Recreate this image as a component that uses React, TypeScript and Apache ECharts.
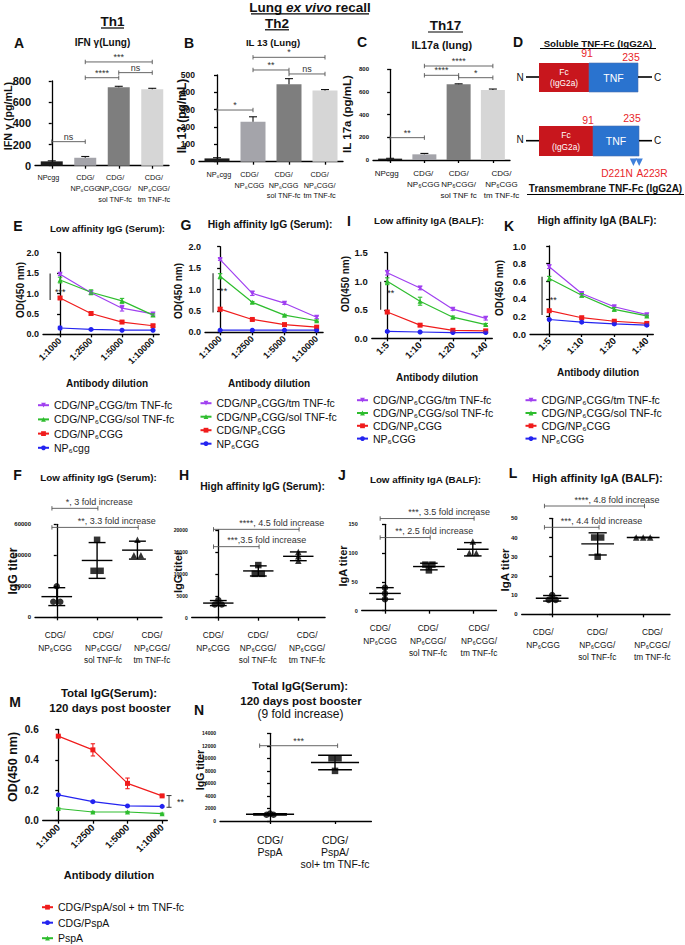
import React, { useEffect, useRef } from 'react';
import * as echarts from 'echarts';

const FONT = '"Liberation Sans", Arial, Helvetica, sans-serif';

// ---------------- Data: bar panels (A, B, C) ----------------
const aCategories = ['NPcgg', 'CDG/\nNP₆CGG', 'CDG/\nNP₆CGG/\nsol TNF-fc', 'CDG/\nNP₆CGG/\ntm TNF-fc'];
const aMeans = [41, 75, 740, 721];
const aErrors = [5, 12, 10, 10];
const bCategories = ['NP₆cgg', 'CDG/\nNP₆CGG', 'CDG/\nNP₆CGG\nsol TNF-fc', 'CDG/\nNP₆CGG/\ntm TNF-fc'];
const bMeans = [19, 231, 446, 410];
const bErrors = [4, 28, 33, 6];
const cCategories = ['NPcgg', 'CDG/\nNP₆CGG', 'CDG/\nNP₆CGG/\nsol TNF fc', 'CDG/\nNP₆CGG\ntm TNF-fc'];
const cMeans = [12, 50, 668, 618];
const cErrors = [3, 8, 4, 8];
const aBrackets = [
  { from: 0, to: 1, y: 227, text: 'ns' },
  { from: 1, to: 2, y: 831, text: '****' },
  { from: 2, to: 3, y: 879, text: 'ns' },
  { from: 1, to: 3, y: 980, text: '***' },
];
const bBrackets = [
  { from: 0, to: 1, y: 298, text: '*' },
  { from: 1, to: 2, y: 529, text: '**' },
  { from: 2, to: 3, y: 506, text: 'ns' },
  { from: 1, to: 3, y: 602, text: '*' },
];
const cBrackets = [
  { from: 0, to: 1, y: 197, text: '**' },
  { from: 1, to: 2, y: 747, text: '****' },
  { from: 2, to: 3, y: 726, text: '*' },
  { from: 1, to: 3, y: 829, text: '****' },
];

// ---------------- Data: ELISA dilution curves (E, G, I, K, M) ----------------
const serumDilutions = ['1:1000', '1:2500', '1:5000', '1:10000'];
const balfDilutions = ['1:5', '1:10', '1:20', '1:40'];
const tmName = 'CDG/NP₆CGG/tm TNF-fc';
const solName = 'CDG/NP₆CGG/sol TNF-fc';
const cdgName = 'CDG/NP₆CGG';
const npLowerName = 'NP₆cgg';
const npName = 'NP₆CGG';

const eTm = [1.47, 1.02, 0.64, 0.5];
const eTmErr = [0.03, 0.04, 0.07, 0.03];
const eSol = [1.33, 1.03, 0.82, 0.47];
const eSolErr = [0.07, 0.06, 0.06, 0.03];
const eCdg = [0.89, 0.51, 0.3, 0.21];
const eCdgErr = [0.03, 0.04, 0.03, 0.03];
const eNp = [0.155, 0.12, 0.1, 0.1];
const eNpErr = [0.04, 0.02, 0.01, 0.01];

const gTm = [1.7, 0.91, 0.68, 0.35];
const gTmErr = [0.02, 0.05, 0.03, 0.03];
const gSol = [1.31, 0.7, 0.4, 0.27];
const gSolErr = [0.06, 0.02, 0.02, 0.02];
const gCdg = [0.54, 0.3, 0.18, 0.12];
const gCdgErr = [0.04, 0.02, 0.02, 0.02];
const gNp = [0.05, 0.05, 0.05, 0.05];
const gNpErr = [0.01, 0.01, 0.01, 0.01];

const iTm = [1.15, 0.88, 0.51, 0.35];
const iTmErr = [0.04, 0.03, 0.02, 0.03];
const iSol = [1.0, 0.65, 0.37, 0.24];
const iSolErr = [0.06, 0.07, 0.02, 0.02];
const iCdg = [0.46, 0.23, 0.14, 0.13];
const iCdgErr = [0.02, 0.02, 0.02, 0.02];
const iNp = [0.12, 0.11, 0.1, 0.1];
const iNpErr = [0.01, 0.01, 0.01, 0.01];

const kTm = [0.765, 0.46, 0.31, 0.22];
const kTmErr = [0.02, 0.015, 0.01, 0.01];
const kSol = [0.63, 0.44, 0.28, 0.205];
const kSolErr = [0.025, 0.02, 0.02, 0.01];
const kCdg = [0.265, 0.185, 0.145, 0.12];
const kCdgErr = [0.01, 0.01, 0.01, 0.01];
const kNp = [0.165, 0.135, 0.115, 0.1];
const kNpErr = [0.01, 0.01, 0.01, 0.01];

const mTnfName = 'CDG/PspA/sol + tm TNF-fc';
const mCdgName = 'CDG/PspA';
const mPspaName = 'PspA';
const mTnf = [0.555, 0.465, 0.245, 0.163];
const mTnfErr = [0.005, 0.04, 0.035, 0.005];
const mCdg = [0.17, 0.125, 0.097, 0.094];
const mCdgErr = [0.005, 0.005, 0.004, 0.004];
const mPspa = [0.08, 0.057, 0.057, 0.046];
const mPspaErr = [0.004, 0.004, 0.004, 0.004];

const eSig = { x: -0.32, from: 1.49, to: 0.84, label: '***', tx: -0.16, ty: 1.04 };
const gSig = { x: -0.22, from: 1.38, to: 0.46, label: '**', tx: 0, ty: 0.965 };
const iSig = { x: -0.2, from: 0.99, to: 0.5, label: '**', tx: 0, ty: 0.8 };
const kSig = { x: -0.22, from: 0.65, to: 0.215, label: '**', tx: 0.02, ty: 0.386 };
const mSig = { x: 3.2, from: 0.165, to: 0.088, label: '**', tx: 3.43, ty: 0.123, caps: true };

// ---------------- Data: titers (F, H, J, L, N) ----------------
const titerCategories = ['CDG/\nNP₆CGG', 'CDG/\nNP₆CGG/\nsol TNF-fc', 'CDG/\nNP₆CGG/\ntm TNF-fc'];
const fGroups = [[20000, 10000, 10000], [50000, 30000, 30000], [50000, 40000, 40000]];
const hGroups = [[4000, 3000, 3000], [12000, 10000, 10000], [15000, 14000, 13000]];
const jGroups = [[40, 30, 20], [80, 80, 70], [120, 100, 100]];
const lGroups = [[10, 7.5, 7.5], [40, 40, 30], [40, 40, 40]];
const nCategories = ['CDG/\nPspA', 'CDG/\nPspA/\nsol+ tm TNF-fc'];
const nGroups = [[1200, 1000, 1000], [10000, 10000, 8000]];

const fBrackets = [
  { from: 0, to: 1, y: 70300, text: '*, 3 fold increase' },
  { from: 0, to: 2, y: 58000, text: '**, 3.3 fold increase' },
];
const hBrackets = [
  { from: 0, to: 2, y: 20150, text: '****, 4.5 fold increase' },
  { from: 0, to: 1, y: 16200, text: '***,3.5 fold increase' },
];
const jBrackets = [
  { from: 0, to: 2, y: 160, text: '***, 3.5 fold increase' },
  { from: 0, to: 1, y: 127, text: '**, 2.5 fold increase' },
];
const lBrackets = [
  { from: 0, to: 2, y: 56.4, text: '****, 4.8 fold increase' },
  { from: 0, to: 1, y: 45.3, text: '***, 4.4 fold increase' },
];
const nBrackets = [{ from: 0, to: 1, y: 12020, text: '***' }];

// ---------------- Styles ----------------
const barColors = ['#1c1c1c', '#a4a4aa', '#7e7e7e', '#d6d6d6'];
const PURPLE = '#a040f0';
const GREEN = '#2ebd2e';
const RED = '#f01c1c';
const BLUE = '#2424f0';
const INK = '#111';
const axisLineStyle = { color: '#000', width: 1.3 };
const groupSymbols = ['circle', 'rect', 'triangle'];

function buildOption() {
  const grid: any[] = [];
  const xAxis: any[] = [];
  const yAxis: any[] = [];
  const series: any[] = [];
  const legend: any[] = [];
  const graphic: any[] = [];

  const addGrid = (g: number[]) => {
    grid.push({ left: g[0], top: g[1], width: g[2], height: g[3], containLabel: false, outerBoundsMode: 'none' });
    return grid.length - 1;
  };
  const addY = (idx: number, max: number, interval: number, fontSize: number, decimals: number) => {
    yAxis.push({
      type: 'value', gridIndex: idx, min: 0, max, interval,
      axisLine: { show: true, lineStyle: axisLineStyle },
      axisTick: { show: true, length: 3, lineStyle: axisLineStyle },
      splitLine: { show: false },
      axisLabel: {
        show: true, fontSize, fontWeight: 'bold', color: INK, fontFamily: FONT, margin: 4,
        showMinLabel: true, showMaxLabel: true, hideOverlap: false,
        formatter: (v: number) => v.toFixed(decimals),
      },
    });
  };
  // value-typed x axis showing category labels (ticks at integers, labels at given positions)
  const addX = (idx: number, labels: string[], xmin: number, xmax: number, o: any) => {
    const ticks = labels.map((_l, i) => i);
    const pos: number[] = o.labelPos || ticks;
    xAxis.push({
      type: 'value', gridIndex: idx, min: xmin, max: xmax,
      axisLine: { lineStyle: axisLineStyle },
      axisTick: { length: 3, lineStyle: axisLineStyle, customValues: ticks },
      splitLine: { show: false },
      axisLabel: {
        fontSize: o.font, lineHeight: o.lineH, fontFamily: FONT, color: INK, fontWeight: o.bold ? 'bold' : 'normal',
        customValues: pos,
        showMinLabel: true, showMaxLabel: true, hideOverlap: false,
        rotate: o.rotate || 0,
        margin: o.margin,
        formatter: (v: number) => {
          let best = 0;
          pos.forEach((p, i) => { if (Math.abs(p - v) < Math.abs(pos[best] - v)) best = i; });
          return labels[best];
        },
      },
    });
  };

  const errorBars = (idx: number, data: number[][], color: string, capHalf: number, twoSided: boolean) => ({
    type: 'custom', xAxisIndex: idx, yAxisIndex: idx, clip: false, silent: true, z: 4,
    encode: { x: 0, y: [1, 2] }, data,
    renderItem: (_p: any, api: any) => {
      const x = api.value(0);
      const a = api.coord([x, api.value(1)]);
      const b = api.coord([x, api.value(2)]);
      const st = { stroke: color, lineWidth: 1.1 };
      const ch: any[] = [
        { type: 'line', shape: { x1: a[0], y1: a[1], x2: b[0], y2: b[1] }, style: st },
        { type: 'line', shape: { x1: b[0] - capHalf, y1: b[1], x2: b[0] + capHalf, y2: b[1] }, style: st },
      ];
      if (twoSided) ch.push({ type: 'line', shape: { x1: a[0] - capHalf, y1: a[1], x2: a[0] + capHalf, y2: a[1] }, style: st });
      return { type: 'group', children: ch };
    },
  });

  const bracketSeries = (idx: number, items: any[], overL: number, overR: number, mode: string, fontSize: number) => ({
    type: 'custom', xAxisIndex: idx, yAxisIndex: idx, clip: false, silent: true, z: 5,
    encode: { x: [0, 1], y: 2 },
    data: items.map((b) => [b.from, b.to, b.y]),
    renderItem: (p: any, api: any) => {
      const b = items[p.dataIndex];
      const x1 = api.value(0) + overL;
      const x2 = api.value(1) + overR;
      const p1 = api.coord([x1, api.value(2)]);
      const p2 = api.coord([x2, api.value(2)]);
      const st = { stroke: '#555', lineWidth: 0.9 };
      let tx = (p1[0] + p2[0]) / 2;
      let align = 'center';
      if (mode === 'left') { tx = p1[0] + 0.3 * (p2[0] - p1[0]); align = 'left'; }
      return {
        type: 'group',
        children: [
          { type: 'line', shape: { x1: p1[0], y1: p1[1], x2: p2[0], y2: p2[1] }, style: st },
          { type: 'line', shape: { x1: p1[0], y1: p1[1] - 2.2, x2: p1[0], y2: p1[1] + 2.2 }, style: st },
          { type: 'line', shape: { x1: p2[0], y1: p2[1] - 2.2, x2: p2[0], y2: p2[1] + 2.2 }, style: st },
          {
            type: 'text', x: tx, y: p1[1] - (mode === 'left' ? 2 : 0.5),
            style: { text: b.text, fill: '#333', fontSize, fontFamily: FONT, align, verticalAlign: 'bottom', textAlign: align, textVerticalAlign: 'bottom' },
          },
        ],
      };
    },
  });

  const sigSeries = (idx: number, s: any) => ({
    type: 'custom', xAxisIndex: idx, yAxisIndex: idx, clip: false, silent: true, z: 5,
    encode: { x: 0, y: [1, 2] }, data: [[s.x, s.from, s.to]],
    renderItem: (_p: any, api: any) => {
      const a = api.coord([api.value(0), api.value(1)]);
      const b = api.coord([api.value(0), api.value(2)]);
      const t = api.coord([s.tx, s.ty]);
      const st = { stroke: '#222', lineWidth: s.caps ? 0.9 : 1.1 };
      const ch: any[] = [{ type: 'line', shape: { x1: a[0], y1: a[1], x2: b[0], y2: b[1] }, style: st }];
      if (s.caps) {
        ch.push({ type: 'line', shape: { x1: a[0] - 2.5, y1: a[1], x2: a[0] + 2.5, y2: a[1] }, style: st });
        ch.push({ type: 'line', shape: { x1: b[0] - 2.5, y1: b[1], x2: b[0] + 2.5, y2: b[1] }, style: st });
      }
      ch.push({
        type: 'text', x: t[0], y: t[1],
        style: { text: s.label, fill: '#222', fontSize: 9, fontFamily: FONT, align: 'left', verticalAlign: 'middle', textAlign: 'left', textVerticalAlign: 'middle' },
      });
      return { type: 'group', children: ch };
    },
  });

  // ---- bar panel ----
  const barPanel = (g: number[], cats: string[], means: number[], errs: number[], max: number, interval: number,
    yFont: number, catFont: number, lineH: number, margin: number, barWidth: number, brackets: any[], labelPos: number[]) => {
    const idx = addGrid(g);
    addX(idx, cats, -0.5, 3.5, { font: catFont, lineH, margin, labelPos });
    addY(idx, max, interval, yFont, 0);
    series.push({
      type: 'bar', xAxisIndex: idx, yAxisIndex: idx, barWidth, silent: true,
      data: means.map((v, i) => ({ value: [i, v], itemStyle: { color: barColors[i] } })),
    });
    series.push(errorBars(idx, means.map((m, i) => [i, m, m + errs[i]]), '#111', 4, false));
    series.push(bracketSeries(idx, brackets, 0, 0, 'center', 9));
  };

  // ---- line panel ----
  const linePanel = (g: number[], xmin: number, xmax: number, labels: string[], max: number, interval: number,
    yFont: number, xFont: number, lines: any[], sig: any) => {
    const idx = addGrid(g);
    addX(idx, labels, xmin, xmax, { font: xFont, lineH: xFont + 2, margin: 5, rotate: 45, bold: true });
    addY(idx, max, interval, yFont, 1);
    lines.forEach((l) => {
      series.push({
        type: 'line', name: l.name, xAxisIndex: idx, yAxisIndex: idx, silent: true,
        data: l.values.map((v: number, i: number) => [i, v]),
        symbol: l.symbol, symbolSize: 5, symbolRotate: l.rotate || 0,
        lineStyle: { color: l.color, width: 1.2 }, itemStyle: { color: l.color },
        z: 3,
      });
      series.push(errorBars(idx, l.values.map((v: number, i: number) => [i, v - l.errors[i], v + l.errors[i]]), l.color, 2.2, true));
    });
    series.push(sigSeries(idx, sig));
  };

  // ---- dot (titer) panel ----
  const dotPanel = (g: number[], xmin: number, xmax: number, labels: string[], max: number, interval: number,
    yFont: number, catFont: number, lineH: number, margin: number, labelPos: number[] | null, groups: number[][], brackets: any[],
    meanHalf: number, capHalf: number, mode: string, overL: number, overR: number) => {
    const idx = addGrid(g);
    addX(idx, labels, xmin, xmax, { font: catFont, lineH, margin, labelPos });
    addY(idx, max, interval, yFont, 0);
    const pts: any[] = [];
    const stats: number[][] = [];
    groups.forEach((vals, gi) => {
      vals.forEach((v, i) => {
        const same = vals.map((w, j) => [w, j]).filter((e) => e[0] === v);
        const k = same.findIndex((e) => e[1] === i);
        const dx = (k - (same.length - 1) / 2) * 7;
        pts.push({ value: [gi, v], symbol: groupSymbols[gi], symbolOffset: [dx, 0] });
      });
      const mean = vals.reduce((s, v) => s + v, 0) / vals.length;
      const sd = Math.sqrt(vals.reduce((s, v) => s + (v - mean) * (v - mean), 0) / (vals.length - 1));
      stats.push([gi, mean, mean - sd, mean + sd]);
    });
    series.push({
      type: 'scatter', xAxisIndex: idx, yAxisIndex: idx, silent: true, symbolSize: 6.5,
      itemStyle: { color: '#000' }, data: pts, z: 3,
    });
    series.push({
      type: 'custom', xAxisIndex: idx, yAxisIndex: idx, clip: false, silent: true, z: 4,
      encode: { x: 0, y: [1, 2, 3] }, data: stats,
      renderItem: (_p: any, api: any) => {
        const x = api.value(0);
        const c = api.coord([x, api.value(1)]);
        const lo = api.coord([x, api.value(2)]);
        const hi = api.coord([x, api.value(3)]);
        const mh = api.size([meanHalf, 0])[0];
        const chh = api.size([capHalf, 0])[0];
        const st = { stroke: '#000', lineWidth: 1.4 };
        return {
          type: 'group',
          children: [
            { type: 'line', shape: { x1: c[0] - mh, y1: c[1], x2: c[0] + mh, y2: c[1] }, style: st },
            { type: 'line', shape: { x1: lo[0], y1: lo[1], x2: hi[0], y2: hi[1] }, style: st },
            { type: 'line', shape: { x1: lo[0] - chh, y1: lo[1], x2: lo[0] + chh, y2: lo[1] }, style: st },
            { type: 'line', shape: { x1: hi[0] - chh, y1: hi[1], x2: hi[0] + chh, y2: hi[1] }, style: st },
          ],
        };
      },
    });
    series.push(bracketSeries(idx, brackets, overL, overR, mode, 9));
  };

  const addLegend = (left: number, top: number, gap: number, names: string[]) => {
    legend.push({
      orient: 'vertical', left, top, itemWidth: 11, itemHeight: 6, itemGap: gap, padding: 0,
      selectedMode: false, data: names,
      textStyle: { fontSize: 10.5, color: INK, fontFamily: FONT },
    });
  };

  // ---- text helpers ----
  const txt = (text: string, x: number, y: number, size: number, bold = true, opts: any = {}) => {
    graphic.push({
      type: 'text', x, y, rotation: opts.rot || 0, silent: true,
      style: {
        text, fill: opts.fill || INK, fontSize: size, fontWeight: bold ? 'bold' : 'normal', fontFamily: FONT,
        align: opts.align || 'center', verticalAlign: 'middle', textAlign: opts.align || 'center', textVerticalAlign: 'middle',
      },
    });
  };
  const ln = (x1: number, y1: number, x2: number, y2: number, w = 1, color = '#000') => {
    graphic.push({ type: 'line', silent: true, shape: { x1, y1, x2, y2 }, style: { stroke: color, lineWidth: w } });
  };
  const yName = (text: string, x: number, y: number, size: number) => txt(text, x, y, size, true, { rot: Math.PI / 2 });

  // =================== Panels ===================
  barPanel([35, 81, 134, 84.7], aCategories, aMeans, aErrors, 800, 200, 11, 7.3, 11, 6, 22, aBrackets, [-0.1, 1.0, 1.89, 3.05]);
  barPanel([199, 75, 144, 86.7], bCategories, bMeans, bErrors, 500, 100, 8.5, 7.3, 10.5, 8, 25, bBrackets, [0.05, 0.9, 1.85, 2.85]);
  barPanel([373, 69.3, 137, 90.7], cCategories, cMeans, cErrors, 800, 200, 6, 8, 11, 7.5, 24, cBrackets, [-0.1, 0.97, 2.0, 3.25]);

  const setE = [
    { name: tmName, values: eTm, errors: eTmErr, color: PURPLE, symbol: 'triangle', rotate: 180 },
    { name: solName, values: eSol, errors: eSolErr, color: GREEN, symbol: 'triangle' },
    { name: cdgName, values: eCdg, errors: eCdgErr, color: RED, symbol: 'rect' },
    { name: npLowerName, values: eNp, errors: eNpErr, color: BLUE, symbol: 'circle' },
  ];
  const setG = [
    { name: tmName, values: gTm, errors: gTmErr, color: PURPLE, symbol: 'triangle', rotate: 180 },
    { name: solName, values: gSol, errors: gSolErr, color: GREEN, symbol: 'triangle' },
    { name: cdgName, values: gCdg, errors: gCdgErr, color: RED, symbol: 'rect' },
    { name: npName, values: gNp, errors: gNpErr, color: BLUE, symbol: 'circle' },
  ];
  const setI = [
    { name: tmName, values: iTm, errors: iTmErr, color: PURPLE, symbol: 'triangle', rotate: 180 },
    { name: solName, values: iSol, errors: iSolErr, color: GREEN, symbol: 'triangle' },
    { name: cdgName, values: iCdg, errors: iCdgErr, color: RED, symbol: 'rect' },
    { name: npName, values: iNp, errors: iNpErr, color: BLUE, symbol: 'circle' },
  ];
  const setK = [
    { name: tmName, values: kTm, errors: kTmErr, color: PURPLE, symbol: 'triangle', rotate: 180 },
    { name: solName, values: kSol, errors: kSolErr, color: GREEN, symbol: 'triangle' },
    { name: cdgName, values: kCdg, errors: kCdgErr, color: RED, symbol: 'rect' },
    { name: npName, values: kNp, errors: kNpErr, color: BLUE, symbol: 'circle' },
  ];
  const setM = [
    { name: mTnfName, values: mTnf, errors: mTnfErr, color: RED, symbol: 'rect' },
    { name: mCdgName, values: mCdg, errors: mCdgErr, color: BLUE, symbol: 'circle' },
    { name: mPspaName, values: mPspa, errors: mPspaErr, color: GREEN, symbol: 'triangle' },
  ];
  linePanel([43, 252.7, 116.2, 81.6], -0.55, 3.2, serumDilutions, 2, 0.5, 9, 9, setE, eSig);
  linePanel([205, 246.7, 118.1, 85.6], -0.47, 3.2, serumDilutions, 2, 0.5, 9, 9, setG, gSig);
  linePanel([371.8, 252.7, 120.5, 85.6], -0.47, 3.2, balfDilutions, 1.5, 0.5, 9.5, 9.5, setI, iSig);
  linePanel([530, 246, 123.3, 88], -0.59, 3.2, balfDilutions, 1, 0.2, 9.5, 9.5, setK, kSig);

  dotPanel([35, 524.3, 127, 93], -0.54, 2.61, titerCategories, 60000, 20000, 6, 8.3, 12.5, 11.5, [-0.04, 1.15, 2.36], fGroups, fBrackets, 0.38, 0.21, 'left', -0.12, 0.02);
  dotPanel([191.7, 530, 133.4, 87.7], -0.665, 2.67, titerCategories, 20000, 5000, 5, 8.3, 12.5, 11.5, [-0.13, 0.99, 2.22], hGroups, hBrackets, 0.38, 0.21, 'left', -0.12, 0.02);
  dotPanel([361.7, 524.3, 134.8, 86.4], -0.53, 2.54, titerCategories, 150, 50, 5.5, 8.3, 12.5, 11.5, [-0.11, 0.98, 2.14], jGroups, jBrackets, 0.36, 0.2, 'left', -0.11, 0.03);
  dotPanel([521.7, 518.3, 148.3, 96], -0.67, 2.59, titerCategories, 50, 10, 6, 8.3, 12.5, 11.5, [-0.2, 0.99, 2.2], lGroups, lBrackets, 0.36, 0.2, 'left', -0.17, 0.03);

  linePanel([42.7, 729.3, 124.6, 91.4], -0.45, 3.15, serumDilutions, 0.6, 0.2, 10, 9.5, setM, mSig);
  dotPanel([220, 733.3, 151.4, 87.7], -0.77, 1.56, nCategories, 14000, 2000, 5, 10.5, 12, 13, null, nGroups, nBrackets, 0.37, 0.26, 'center', -0.16, 0.04);

  addLegend(37, 399.7, 3.2, [tmName, solName, cdgName, npLowerName]);
  addLegend(199.5, 397.7, 2.5, [tmName, solName, cdgName, npName]);
  addLegend(356, 394.7, 1.8, [tmName, solName, cdgName, npName]);
  addLegend(524.5, 394.7, 1.8, [tmName, solName, cdgName, npName]);
  addLegend(41, 901.7, 4.5, [mTnfName, mCdgName, mPspaName]);

  // =================== Texts ===================
  graphic.push({
    type: 'text', x: 310, y: 7.5, silent: true,
    style: {
      text: '{b|Lung }{bi|ex vivo}{b| recall}', align: 'center', verticalAlign: 'middle', textAlign: 'center', textVerticalAlign: 'middle',
      rich: {
        b: { fontSize: 13.5, fontWeight: 'bold', fontFamily: FONT, fill: INK, color: INK },
        bi: { fontSize: 13.5, fontWeight: 'bold', fontStyle: 'italic', fontFamily: FONT, fill: INK, color: INK },
      },
    },
  });
  ln(251, 13.8, 369, 13.8, 1.2);
  txt('Th1', 112.5, 21.5, 13.5); ln(101, 28, 124, 28, 1.2);
  txt('Th2', 277, 23, 13.5); ln(265, 29.8, 289, 29.8, 1.2);
  txt('Th17', 445.5, 25, 13.5); ln(428, 32, 463, 32, 1.2);

  // panel letters
  const letters: [string, number, number][] = [
    ['A', 19, 43], ['B', 189, 43], ['C', 362, 42], ['D', 518, 42],
    ['E', 18, 226], ['G', 186, 225], ['I', 349, 221], ['K', 509, 226],
    ['F', 17.5, 475], ['H', 184, 475], ['J', 342, 475], ['L', 513, 473],
    ['M', 15, 702], ['N', 199, 710],
  ];
  letters.forEach((l) => txt(l[0], l[1], l[2], 14));

  // panel titles
  txt('IFN γ(Lung)', 102.5, 42, 10);
  txt('IL 13 (Lung)', 273, 42, 9.6);
  txt('IL17a (lung)', 441.7, 45, 10.8);
  txt('Low affinity IgG (Serum):', 107.5, 228, 9.7);
  txt('High affinity IgG (Serum):', 270, 224, 10.3);
  txt('Low affinity IgA (BALF):', 429, 220, 9.7);
  txt('High affinity IgA (BALF):', 597, 220, 10.3);
  txt('Low affinity IgG (Serum):', 98.5, 477, 9.8);
  txt('High affinity IgG (Serum):', 262.5, 486, 10.3);
  txt('Low affinity IgA (BALF):', 425.5, 479, 9.8);
  txt('High affinity IgA (BALF):', 597.5, 478, 11.3);
  txt('Total IgG(Serum):', 109, 693, 11.5);
  txt('120 days post booster', 110, 708, 11.5);
  txt('Total IgG(Serum):', 300, 686, 11.5);
  txt('120 days post booster', 301, 700.5, 11.5);
  txt('(9 fold increase)', 300.5, 713.5, 12, false);

  // x-axis titles
  txt('Antibody dilution', 107, 383, 10);
  txt('Antibody dilution', 269, 383, 10);
  txt('Antibody dilution', 437, 377, 10);
  txt('Antibody dilution', 598, 372, 10);
  txt('Antibody dilution', 109, 875, 11);

  // y-axis titles
  yName('IFN γ (pg/mL)', 8, 116, 10.7);
  yName('IL 13 (pg/mL)', 182, 116, 12);
  yName('IL 17a (pg/mL)', 347, 114, 11.5);
  yName('OD(450 nm)', 20, 290, 10);
  yName('OD(450 nm)', 178, 291, 10);
  yName('OD(450 nm)', 345, 284, 10);
  yName('OD(450 nm)', 499, 288, 10);
  yName('IgG titer', 13, 571, 12.3);
  yName('IgG titer', 178, 572, 11);
  yName('IgA titer', 343, 566, 11);
  yName('IgA titer', 505, 570, 11.5);
  yName('OD(450 nm)', 13, 767, 12.5);
  yName('IgG titer', 200, 770, 10.5);

  // =================== Panel D: construct diagrams ===================
  const dRed = '#c8161d';
  const dBlue = '#2a73cf';
  const dRedText = '#e8262a';
  txt('Soluble TNF-Fc (IgG2A)', 598, 43, 9.7);
  ln(540, 48.5, 656, 48.5, 1);
  txt('91', 587, 53, 10.5, false, { fill: dRedText });
  txt('235', 631, 57, 10.5, false, { fill: dRedText });
  txt('N', 520, 77, 10, false);
  ln(526, 77, 539, 77, 1.6);
  graphic.push({ type: 'rect', silent: true, shape: { x: 539, y: 63, width: 50, height: 29 }, style: { fill: dRed } });
  graphic.push({ type: 'rect', silent: true, shape: { x: 589, y: 63, width: 49, height: 29 }, style: { fill: dBlue, stroke: '#4a6fb0', lineWidth: 0.6 } });
  txt('Fc', 564, 71.5, 8.5, false, { fill: '#fff' });
  txt('(IgG2a)', 564, 83, 8.3, false, { fill: '#fff' });
  txt('TNF', 613.5, 77.5, 10.5, false, { fill: '#fff' });
  ln(638, 77, 652, 77, 1.6);
  txt('C', 657.5, 77, 10, false);

  txt('91', 588, 119.5, 10.5, false, { fill: dRedText });
  txt('235', 632, 117.5, 10.5, false, { fill: dRedText });
  txt('N', 520, 139.5, 10, false);
  ln(526, 140.7, 539, 140.7, 1.6);
  graphic.push({ type: 'rect', silent: true, shape: { x: 539, y: 126, width: 54, height: 30 }, style: { fill: dRed } });
  graphic.push({ type: 'rect', silent: true, shape: { x: 593, y: 126, width: 46, height: 30 }, style: { fill: dBlue, stroke: '#4a6fb0', lineWidth: 0.6 } });
  txt('Fc', 566, 135, 8.5, false, { fill: '#fff' });
  txt('(IgG2a)', 566, 147, 8.3, false, { fill: '#fff' });
  txt('TNF', 616, 141, 10.5, false, { fill: '#fff' });
  ln(639, 140.7, 652, 140.7, 1.6);
  txt('C', 657.5, 140.7, 10, false);
  graphic.push({ type: 'polygon', silent: true, shape: { points: [[629.8, 158.5], [637, 158.5], [633.4, 166]] }, style: { fill: '#3f80da' } });
  graphic.push({ type: 'polygon', silent: true, shape: { points: [[635.6, 158.5], [642.8, 158.5], [639.2, 166]] }, style: { fill: '#3f80da' } });
  txt('D221N', 617, 173.5, 10.2, false, { fill: dRedText });
  txt('A223R', 652, 173.5, 10.2, false, { fill: dRedText });
  txt('Transmembrane TNF-Fc (IgG2A)', 605.5, 188.5, 10);
  ln(527, 194.5, 684, 194.5, 1);

  return {
    animation: false,
    backgroundColor: '#fff',
    textStyle: { fontFamily: FONT },
    grid, xAxis, yAxis, series, legend, graphic,
  };
}

export default function App() {
  const ref = useRef<HTMLDivElement>(null);
  useEffect(() => {
    if (!ref.current) return;
    const chart = echarts.init(ref.current, null, { renderer: 'svg' });
    chart.setOption(buildOption() as any);
    return () => chart.dispose();
  }, []);
  return (
    <div
      ref={ref}
      style={{ position: 'absolute', left: 0, top: 0, width: 685, height: 945, background: '#fff' }}
    />
  );
}
